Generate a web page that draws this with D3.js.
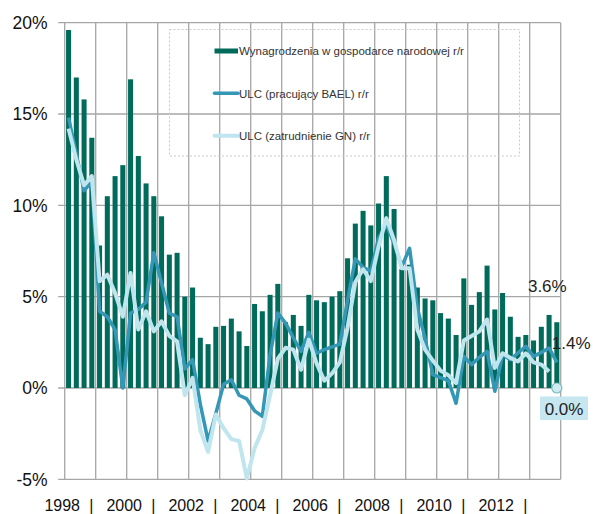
<!DOCTYPE html>
<html>
<head>
<meta charset="utf-8">
<script src="https://cdn.jsdelivr.net/npm/d3@7"></script>
<style>
  body { margin: 0; background: #fff; }
  svg text { font-family: "Liberation Sans", Arial, sans-serif; }
</style>
</head>
<body>
<div id="chart"></div>
<script>
// quarterly data 1998Q1 .. 2013Q4, % r/r
const years = d3.range(1998, 2014);
const quarters = years.flatMap(y => [1, 2, 3, 4].map(q => y + 'Q' + q));

const wages = [
  19.6, 17.0, 15.8, 13.7, 7.8, 10.5, 11.6, 12.2,
  16.9, 12.7, 11.2, 10.5, 9.4, 7.3, 7.4, 5.0,
  5.5, 2.75, 2.4, 3.35, 3.4, 3.8, 3.1, 2.3,
  4.6, 4.2, 5.1, 5.7, 3.6, 4.0, 3.4, 5.1,
  4.8, 4.7, 5.0, 5.3, 7.1, 9.0, 9.7, 8.9,
  10.1, 11.6, 9.8, 6.5, 6.75, 5.5, 4.9, 4.8,
  4.1, 3.8, 2.9, 6.0, 4.55, 5.25, 6.7, 4.3,
  5.2, 3.9, 2.8, 2.9, 2.6, 3.35, 4.0, 3.6
];

const ulcBael = [
  14.8, 12.8, 10.8, 11.3, 4.2, 3.9, 3.2, 0.0,
  4.1, 4.3, 4.7, 7.4, 5.75, 4.1, 3.9, 1.05,
  1.55, -0.9, -2.9, -1.4, 0.2, 0.45, -0.4, -0.6,
  -1.25, -1.55, 1.8, 4.1, 3.55, 2.75, 2.0, 3.05,
  1.9, 2.1, 2.25, 2.4, 4.8, 7.07, 6.6, 6.4,
  8.2, 8.95, 7.9, 6.65, 7.65, 4.4, 2.7, 0.73,
  0.57, 0.4, -0.84, 1.73, 1.28, 1.68, 2.0, -0.18,
  1.82, 1.55, 1.92, 2.28, 1.73, 1.95, 2.19, 1.4
];

const ulcGn = [
  14.2, 12.5, 11.1, 11.6, 5.85, 6.2, 5.2, 3.9,
  6.3, 3.2, 4.2, 3.1, 3.65, 2.85, 2.55, -0.4,
  0.55, -2.3, -3.5, -1.45, -2.2, -2.8, -2.9, -4.95,
  -3.3, -2.3, -0.4, 1.6, 2.2, 2.1, 1.0, 2.65,
  1.35, 0.4, 0.8, 1.4, 3.3, 5.8, 6.5, 5.85,
  7.75, 9.3, 8.1, 6.55, 6.55, 3.2, 2.1, 1.5,
  0.95, 0.7, 0.27, 2.6, 2.85, 3.1, 3.75, 1.1,
  1.9, 1.65, 1.45, 1.9, 1.4, 1.28, 0.9, null
];
const ulcGnLast = 0.0;

const yTicks = [-5, 0, 5, 10, 15, 20];
const yearLabels = [1998, 2000, 2002, 2004, 2006, 2008, 2010, 2012];
const seriesNames = [
  'Wynagrodzenia w gospodarce narodowej r/r',
  'ULC (pracujący BAEL) r/r',
  'ULC (zatrudnienie GN) r/r'
];

const W = 593, H = 514;
const pLeft = 64.7, pRight = 560.7, pTop = 22.7, pBottom = 479.3;
const cBar = '#006b5b', cBael = '#3397b5', cGn = '#bfe5ee', cGrid = '#a6a6a6';

const svg = d3.select('#chart').append('svg')
  .attr('width', W)
  .attr('height', H);

const x = d3.scaleBand()
  .domain(quarters)
  .range([pLeft, pRight])
  .paddingInner(0.35)
  .paddingOuter(0.175);

const xt = d3.scaleLinear().domain([1998, 2014]).range([pLeft, pRight]);
const y = d3.scaleLinear().domain([-5, 20]).range([pBottom, pTop]);
const cx = q => x(q) + x.bandwidth() / 2;

// grid
svg.append('g')
  .selectAll('line')
  .data(yTicks)
  .enter().append('line')
  .attr('x1', pLeft - 6.5).attr('x2', pRight)
  .attr('y1', d => y(d)).attr('y2', d => y(d))
  .attr('stroke', cGrid).attr('stroke-width', 1.3);

svg.append('g')
  .selectAll('line')
  .data(years.concat([2014]))
  .enter().append('line')
  .attr('x1', d => xt(d)).attr('x2', d => xt(d))
  .attr('y1', pTop).attr('y2', pBottom)
  .attr('stroke', cGrid).attr('stroke-width', 1.3);

// y labels
svg.append('g')
  .selectAll('text')
  .data(yTicks)
  .enter().append('text')
  .attr('x', 47.5)
  .attr('y', d => y(d) + 6.3)
  .attr('text-anchor', 'end')
  .attr('font-size', 17.5)
  .attr('fill', '#111')
  .text(d => d + '%');

// x labels
const xl = svg.append('g').attr('font-size', 16).attr('fill', '#111');
xl.selectAll('.yr')
  .data(yearLabels)
  .enter().append('text')
  .attr('class', 'yr')
  .attr('x', d => xt(d) - 2.5)
  .attr('y', 510.5)
  .attr('text-anchor', 'middle')
  .text(d => d);
xl.selectAll('.sep')
  .data(yearLabels)
  .enter().append('text')
  .attr('class', 'sep')
  .attr('x', d => xt(d + 0.86))
  .attr('y', 510.5)
  .attr('text-anchor', 'middle')
  .text('|');

// legend box
svg.append('rect')
  .attr('x', 169.5).attr('y', 29.5)
  .attr('width', 350).attr('height', 126.5)
  .attr('fill', 'none')
  .attr('stroke', '#c8c8c8')
  .attr('stroke-dasharray', '2,2');

// bars
svg.append('g')
  .selectAll('rect')
  .data(wages)
  .enter().append('rect')
  .attr('x', (d, i) => x(quarters[i]))
  .attr('y', d => y(Math.max(0, d)))
  .attr('width', x.bandwidth())
  .attr('height', d => Math.abs(y(d) - y(0)))
  .attr('fill', cBar);

// lines
const line = d3.line()
  .defined(d => d.v !== null)
  .x(d => cx(d.q))
  .y(d => y(d.v));

svg.append('path')
  .datum(ulcBael.map((v, i) => ({ q: quarters[i], v })))
  .attr('d', line)
  .attr('fill', 'none')
  .attr('stroke', cBael)
  .attr('stroke-width', 3.5)
  .attr('stroke-linejoin', 'round');

svg.append('path')
  .datum(ulcGn.map((v, i) => ({ q: quarters[i], v })))
  .attr('d', line)
  .attr('fill', 'none')
  .attr('stroke', cGn)
  .attr('stroke-width', 4)
  .attr('stroke-linejoin', 'round');

const lastQ = quarters[quarters.length - 1];

svg.append('circle')
  .attr('cx', cx(lastQ))
  .attr('cy', y(ulcGnLast))
  .attr('r', 5)
  .attr('fill', '#cfeaf0')
  .attr('stroke', '#7cbcc0')
  .attr('stroke-width', 1.2);

// value labels
svg.append('text')
  .attr('x', cx(lastQ) - 9.5)
  .attr('y', y(wages[wages.length - 1]) - 30)
  .attr('text-anchor', 'middle')
  .attr('font-size', 17)
  .attr('fill', '#222')
  .text(d3.format('.1f')(wages[wages.length - 1]) + '%');

svg.append('text')
  .attr('x', cx(lastQ) - 5)
  .attr('y', y(ulcBael[ulcBael.length - 1]) - 13)
  .attr('font-size', 17)
  .attr('fill', '#222')
  .text(d3.format('.1f')(ulcBael[ulcBael.length - 1]) + '%');

svg.append('rect')
  .attr('x', 540).attr('y', y(ulcGnLast) + 8.5)
  .attr('width', 48).attr('height', 23.5)
  .attr('fill', '#c6e7ef');

svg.append('text')
  .attr('x', 564)
  .attr('y', y(ulcGnLast) + 26.7)
  .attr('text-anchor', 'middle')
  .attr('font-size', 17)
  .attr('fill', '#222')
  .text(d3.format('.1f')(ulcGnLast) + '%');

// legend entries
const lg = svg.append('g');
const legendY = [51, 93.3, 135.7];
const legendStyle = [
  { c: cBar, w: 5 },
  { c: cBael, w: 3.5 },
  { c: cGn, w: 4 }
];
seriesNames.forEach((name, i) => {
  lg.append('line')
    .attr('x1', 214.5).attr('x2', 238)
    .attr('y1', legendY[i]).attr('y2', legendY[i])
    .attr('stroke', legendStyle[i].c)
    .attr('stroke-width', legendStyle[i].w)
    .attr('stroke-linecap', i ? 'round' : 'butt');
  lg.append('text')
    .attr('x', 239)
    .attr('y', legendY[i] + 4.2)
    .attr('font-size', 11.5)
    .attr('fill', '#333')
    .text(name);
});
</script>
</body>
</html>
